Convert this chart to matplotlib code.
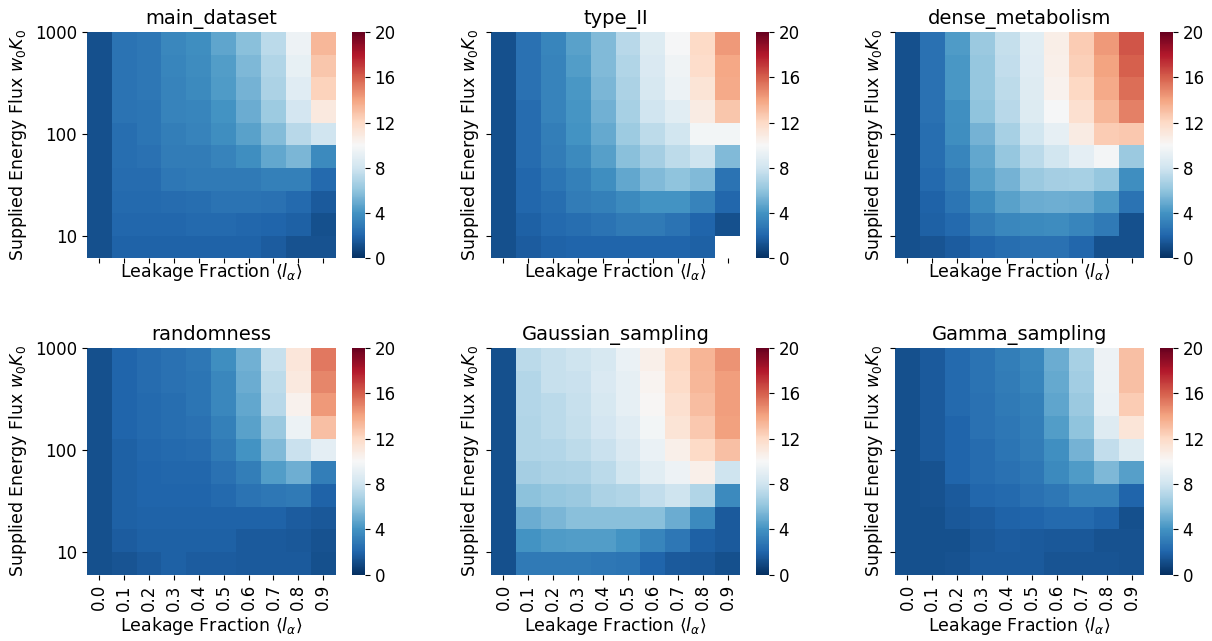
import numpy as np
import matplotlib
matplotlib.use("Agg")
import matplotlib.pyplot as plt
from matplotlib.ticker import NullLocator

# leakage fraction columns, energy flux rows (top row = highest flux)
leakage = [0.0, 0.1, 0.2, 0.3, 0.4, 0.5, 0.6, 0.7, 0.8, 0.9]
leak_labels = ["%.1f" % v for v in leakage]
flux_ticks = [10, 100, 1000]
flux_tick_labels = ["10", "100", "1000"]
rows_per_decade = 4.5

names = ["main_dataset", "type_II", "dense_metabolism",
         "randomness", "Gaussian_sampling", "Gamma_sampling"]

main_dataset = [
    [1.2, 2.6, 2.8, 3.5, 3.8, 4.7, 5.8, 7.3, 9.5, 13.3],
    [1.2, 2.6, 2.8, 3.4, 3.7, 4.4, 5.5, 7.0, 9.2, 12.8],
    [1.2, 2.6, 2.8, 3.3, 3.6, 4.3, 5.3, 6.8, 8.8, 12.3],
    [1.2, 2.6, 2.7, 3.3, 3.4, 4.0, 5.0, 6.4, 8.2, 11.0],
    [1.2, 2.4, 2.7, 3.1, 3.3, 3.8, 4.6, 5.7, 7.2, 8.0],
    [1.2, 2.4, 2.5, 3.0, 3.0, 3.3, 3.8, 4.8, 5.4, 3.6],
    [1.2, 2.3, 2.3, 2.8, 2.9, 2.9, 2.9, 3.2, 3.2, 2.2],
    [1.2, 2.2, 2.2, 2.3, 2.4, 2.6, 2.6, 2.5, 2.2, 1.6],
    [1.2, 2.1, 2.1, 2.1, 2.2, 2.2, 2.1, 2.0, 1.8, 1.2],
    [1.2, 1.9, 1.9, 1.9, 1.9, 1.9, 1.9, 1.7, 1.3, 1.3],
]

type_II = [
    [1.2, 2.5, 3.4, 4.6, 5.6, 7.2, 8.6, 9.9, 12.0, 14.3],
    [1.2, 2.5, 3.3, 4.4, 5.6, 7.0, 8.5, 9.6, 11.8, 13.9],
    [1.2, 2.5, 3.3, 4.2, 5.4, 6.8, 8.3, 9.4, 11.4, 13.8],
    [1.2, 2.3, 3.3, 4.1, 5.2, 6.7, 8.0, 8.9, 10.8, 12.8],
    [1.2, 2.3, 3.1, 4.0, 4.9, 6.4, 7.4, 8.1, 9.7, 9.7],
    [1.2, 2.3, 3.0, 3.6, 4.5, 5.8, 6.6, 7.4, 7.9, 5.6],
    [1.2, 2.1, 2.7, 3.2, 3.8, 4.8, 5.6, 6.0, 5.6, 2.6],
    [1.2, 2.1, 2.4, 3.0, 3.2, 3.6, 4.0, 4.0, 3.3, 2.1],
    [1.2, 1.8, 2.2, 2.4, 2.6, 2.9, 2.9, 2.6, 2.0, 1.2],
    [1.2, 1.7, 1.9, 2.0, 2.0, 2.0, 2.0, 2.0, 1.8, np.nan],
]

dense_metabolism = [
    [1.2, 2.5, 4.3, 6.3, 7.6, 8.9, 10.7, 12.5, 14.3, 16.3],
    [1.2, 2.5, 4.2, 6.1, 7.5, 8.8, 10.6, 12.4, 14.0, 16.0],
    [1.2, 2.5, 4.2, 6.1, 7.4, 8.7, 10.4, 12.1, 13.8, 15.6],
    [1.2, 2.5, 3.9, 6.0, 7.2, 8.6, 9.9, 11.6, 13.3, 15.0],
    [1.2, 2.4, 3.8, 5.3, 6.7, 8.1, 9.1, 10.8, 12.5, 12.7],
    [1.2, 2.4, 3.4, 4.8, 6.1, 7.3, 8.1, 9.0, 9.8, 6.3],
    [1.2, 2.2, 3.0, 4.5, 5.3, 6.3, 6.6, 6.7, 6.1, 3.8],
    [1.2, 1.9, 2.7, 3.7, 4.6, 5.0, 5.1, 5.0, 4.3, 2.6],
    [1.2, 1.8, 2.2, 3.0, 3.5, 3.6, 3.7, 3.4, 2.9, 1.2],
    [1.2, 1.4, 1.7, 2.1, 2.4, 2.5, 2.5, 2.1, 1.2, 1.2],
]

randomness = [
    [1.2, 2.0, 2.3, 2.5, 2.8, 3.8, 5.2, 7.7, 11.2, 15.3],
    [1.2, 2.0, 2.3, 2.5, 2.7, 3.5, 5.0, 7.4, 11.0, 14.9],
    [1.2, 2.0, 2.2, 2.4, 2.7, 3.5, 4.8, 7.2, 10.4, 14.3],
    [1.2, 2.0, 2.2, 2.4, 2.5, 3.2, 4.6, 6.3, 9.4, 13.0],
    [1.2, 1.8, 2.1, 2.2, 2.3, 2.9, 4.0, 5.6, 7.8, 9.0],
    [1.2, 1.8, 2.0, 2.1, 2.1, 2.5, 3.1, 4.4, 5.1, 3.1],
    [1.2, 1.8, 2.0, 2.0, 2.0, 2.2, 2.6, 2.8, 2.9, 1.9],
    [1.2, 1.8, 1.9, 1.9, 1.9, 1.9, 1.9, 1.9, 1.7, 1.5],
    [1.2, 1.7, 1.8, 1.8, 1.8, 1.8, 1.6, 1.6, 1.5, 1.3],
    [1.2, 1.4, 1.6, 1.8, 1.7, 1.7, 1.6, 1.6, 1.6, 1.2],
]

Gaussian_sampling = [
    [1.2, 7.3, 7.7, 7.9, 8.3, 9.3, 10.6, 12.1, 13.4, 14.5],
    [1.2, 7.1, 7.7, 7.8, 8.5, 9.1, 10.3, 11.9, 13.3, 14.2],
    [1.2, 7.1, 7.3, 7.7, 8.3, 9.1, 10.1, 11.6, 13.1, 14.2],
    [1.2, 7.0, 7.3, 7.6, 8.2, 8.8, 9.7, 11.4, 12.7, 14.1],
    [1.2, 7.0, 7.1, 7.4, 7.8, 8.5, 9.3, 10.6, 12.0, 13.0],
    [1.2, 6.6, 6.8, 6.9, 7.3, 8.1, 8.9, 9.5, 10.6, 7.9],
    [1.2, 5.9, 6.1, 6.3, 6.8, 7.0, 7.5, 7.9, 7.0, 3.6],
    [1.2, 5.0, 5.4, 5.8, 5.8, 5.8, 5.8, 5.0, 3.6, 1.6],
    [1.2, 4.0, 4.3, 4.4, 4.4, 4.0, 3.4, 2.8, 1.8, 1.6],
    [1.2, 2.9, 2.9, 2.9, 2.8, 2.7, 2.0, 1.6, 1.5, 1.2],
]

Gamma_sampling = [
    [1.2, 1.6, 2.2, 2.6, 3.1, 3.5, 5.0, 6.7, 9.5, 13.0],
    [1.2, 1.6, 2.2, 2.6, 3.0, 3.4, 4.9, 6.5, 9.4, 13.0],
    [1.2, 1.6, 2.2, 2.5, 2.9, 3.2, 4.7, 6.3, 9.3, 12.5],
    [1.2, 1.6, 2.0, 2.5, 2.8, 3.1, 4.4, 6.0, 8.7, 11.3],
    [1.2, 1.6, 2.0, 2.3, 2.7, 3.0, 3.9, 5.3, 7.5, 8.6],
    [1.2, 1.3, 2.0, 2.3, 2.5, 2.8, 3.6, 4.3, 5.5, 4.5],
    [1.2, 1.3, 1.6, 2.1, 2.2, 2.5, 2.8, 3.3, 3.3, 2.0],
    [1.2, 1.2, 1.5, 1.7, 1.9, 2.0, 2.2, 2.2, 1.9, 1.2],
    [1.2, 1.2, 1.2, 1.5, 1.7, 1.6, 1.5, 1.5, 1.3, 1.3],
    [1.2, 1.2, 1.3, 1.6, 1.6, 1.6, 1.4, 1.4, 1.4, 1.3],
]

datasets = [main_dataset, type_II, dense_metabolism,
            randomness, Gaussian_sampling, Gamma_sampling]

W, H = 1212, 641
fig = plt.figure(figsize=(W / 100, H / 100), dpi=100)

col_left = [86.7, 491, 895]
row_top = [32, 348]
ax_w, ax_h = 249, 226.5
cb_off, cb_w = 265, 13

n_rows = len(main_dataset)
x_edges = np.arange(len(leakage) + 1)
flux_edges = 10 ** (3 - np.arange(n_rows + 1) / rows_per_decade)

for k, (name, vals) in enumerate(zip(names, datasets)):
    r, c = divmod(k, 3)
    left, top = col_left[c], row_top[r]
    ax = fig.add_axes([left / W, 1 - (top + ax_h) / H, ax_w / W, ax_h / H])
    cax = fig.add_axes([(left + cb_off) / W, 1 - (top + ax_h) / H, cb_w / W, ax_h / H])

    z = np.ma.masked_invalid(np.array(vals, dtype=float))
    ax.set_yscale("log")
    mesh = ax.pcolormesh(x_edges, flux_edges, z, cmap="RdBu_r", vmin=0, vmax=20)
    ax.set_xlim(0, len(leakage))
    ax.set_ylim(flux_edges[-1], flux_edges[0])
    for s in ax.spines.values():
        s.set_visible(False)

    ax.set_xticks(x_edges[:-1] + 0.5)
    ax.set_xticklabels(leak_labels, rotation=90, fontsize=12)
    ax.yaxis.set_minor_locator(NullLocator())
    ax.set_yticks(flux_ticks)
    ax.set_yticklabels(flux_tick_labels, fontsize=12)
    ax.tick_params(labelbottom=(r == 1), labelleft=(c == 0))
    ax.set_xlabel(r"Leakage Fraction $\langle l_\alpha\rangle$", fontsize=12.5,
                  labelpad=3 if r == 1 else -2)
    ax.set_ylabel(r"Supplied Energy Flux $w_0K_0$", fontsize=12.5)
    ax.set_title(name, fontsize=14)

    cb = fig.colorbar(mesh, cax=cax, ticks=[0, 4, 8, 12, 16, 20])
    cb.outline.set_visible(False)
    cb.ax.tick_params(labelsize=12)

fig.savefig("out.png", dpi=100)
